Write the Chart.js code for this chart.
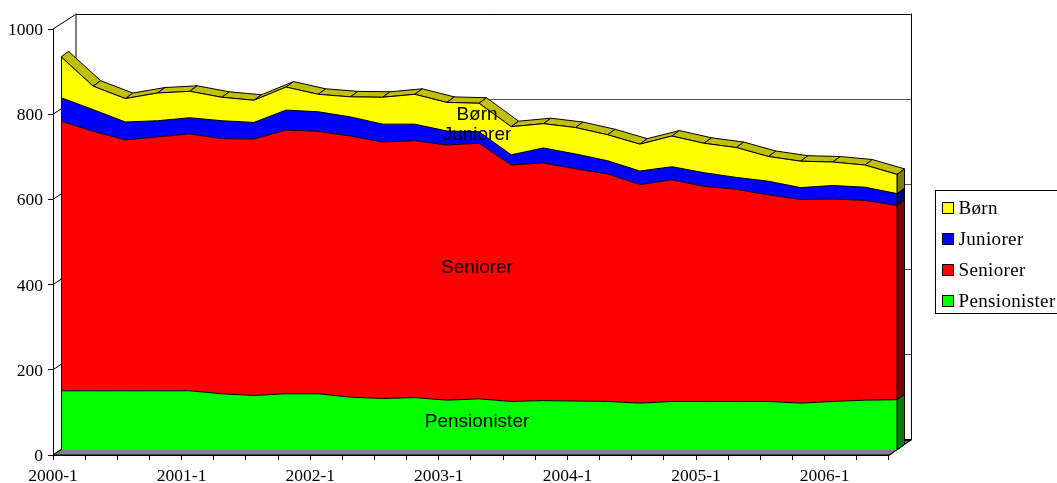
<!DOCTYPE html>
<html>
<head>
<meta charset="utf-8">
<script src="https://cdn.jsdelivr.net/npm/chart.js@4"></script>
<style>
    body { margin: 0; background: #fff; }
    canvas { display: block; }
</style>
</head>
<body>
<canvas id="members-chart" width="1057" height="483"></canvas>
<script>
"use strict";

var categories = [
    '2000-1', '2000-2', '2000-3', '2000-4', '2001-1', '2001-2', '2001-3', '2001-4',
    '2002-1', '2002-2', '2002-3', '2002-4', '2003-1', '2003-2', '2003-3', '2003-4',
    '2004-1', '2004-2', '2004-3', '2004-4', '2005-1', '2005-2', '2005-3', '2005-4',
    '2006-1', '2006-2', '2006-3'
];
var pensionister = [139, 139, 139, 139, 139, 132, 128, 132, 132, 124, 121, 123, 117, 120, 114, 116, 115, 114, 110, 114, 114, 114, 114, 110, 114, 117, 118];
var seniorer = [633, 609, 589, 596, 603, 599, 602, 619, 616, 613, 602, 603, 599, 600, 555, 558, 545, 534, 513, 520, 505, 498, 485, 478, 475, 469, 456];
var juniorer = [55, 51, 42, 38, 38, 42, 39, 47, 46, 45, 42, 39, 33, 27, 24, 35, 35, 31, 32, 31, 32, 28, 32, 28, 32, 31, 28];
var boern = [96, 55, 55, 65, 62, 55, 52, 54, 41, 47, 63, 70, 67, 67, 66, 57, 62, 61, 63, 72, 69, 70, 58, 62, 55, 52, 45];
var valueTicks = [0, 200, 400, 600, 800, 1000];

var serifFont = '"Liberation Serif", serif';
var sansFont = '"Liberation Sans", Arial, sans-serif';

function points(values) {
    return values.map(function (v, i) {
        return { x: i, y: v };
    });
}

function band(label, values, color, sideColor, fill) {
    return {
        label: label,
        data: points(values),
        xAxisID: 'xData',
        yAxisID: 'yData',
        backgroundColor: color,
        sideColor: sideColor,
        borderColor: '#000',
        borderWidth: 1,
        pointRadius: 0,
        tension: 0,
        fill: fill
    };
}

function line(ctx, pts, fillStyle) {
    ctx.beginPath();
    ctx.moveTo(pts[0][0], pts[0][1]);
    for (var i = 1; i < pts.length; i++) {
        ctx.lineTo(pts[i][0], pts[i][1]);
    }
    if (fillStyle) {
        ctx.closePath();
        ctx.fillStyle = fillStyle;
        ctx.fill();
    }
    ctx.stroke();
}

/* fake 3d box: walls + floor behind the series, top ledge and end caps on the series */
var boxPlugin = {
    id: 'box3d',
    beforeDatasetsDraw: function (chart) {
        var ctx = chart.ctx;
        var xs = chart.scales.xTicks;
        var ys = chart.scales.yTicks;
        var left = xs.getPixelForValue(0);
        var right = xs.getPixelForValue(26);
        var y0 = ys.getPixelForValue(0);
        var y1 = ys.getPixelForValue(1000);
        var wallX = 22.5, wallY = 15.5;
        var serX = 7.5, serY = 5.5;
        ctx.save();
        ctx.lineWidth = 1;
        ctx.strokeStyle = '#000';
        // floor
        line(ctx, [[left, y0], [left + wallX, y0 - wallY], [right + wallX, y0 - wallY], [right, y0]], '#808080');
        // back wall grid
        valueTicks.forEach(function (v) {
            var y = Math.round(ys.getPixelForValue(v) - wallY) + 0.5;
            var py = ys.getPixelForValue(v);
            ctx.strokeStyle = v == 0 || v == 1000 ? '#000' : '#555';
            line(ctx, [[left + wallX, y], [right + wallX, y]]);
            ctx.strokeStyle = '#000';
            line(ctx, [[left, py], [left + wallX, y]]);
        });
        line(ctx, [[left + wallX + 0.5, y1 - wallY], [left + wallX + 0.5, y0 - wallY]]);
        line(ctx, [[right + wallX, y1 - wallY], [right + wallX, y0 - wallY]]);
        line(ctx, [[left + 0.5, y1], [left + 0.5, y0]]);
        line(ctx, [[left, y0 + 0.5], [right, y0 + 0.5]]);
        line(ctx, [[right, y0 + 0.5], [right + wallX, y0 - wallY]]);

        // ledge along the top series
        var metas = chart.getSortedVisibleDatasetMetas();
        var top = metas[metas.length - 1].data;
        for (var i = 0; i < top.length - 1; i++) {
            line(ctx, [
                [top[i].x, top[i].y],
                [top[i].x + serX, top[i].y - serY],
                [top[i + 1].x + serX, top[i + 1].y - serY],
                [top[i + 1].x, top[i + 1].y]
            ], '#c0c000');
        }
        // end caps
        var baseY = chart.scales.yData.getPixelForValue(0);
        metas.forEach(function (meta, k) {
            var p = meta.data[meta.data.length - 1];
            var below = k == 0 ? baseY : metas[k - 1].data[meta.data.length - 1].y;
            line(ctx, [
                [p.x, p.y],
                [p.x + serX, p.y - serY],
                [p.x + serX, below - serY],
                [p.x, below]
            ], chart.data.datasets[meta.index].sideColor);
        });
        ctx.restore();
    },
    afterDatasetsDraw: function (chart) {
        var ctx = chart.ctx;
        var metas = chart.getSortedVisibleDatasetMetas();
        var baseY = chart.scales.yData.getPixelForValue(0);
        var topPts = metas[metas.length - 1].data;
        var last = topPts.length - 1;
        ctx.save();
        ctx.strokeStyle = '#000';
        ctx.lineWidth = 1;
        // front edges of the series
        line(ctx, [[topPts[0].x + 0.5, topPts[0].y], [topPts[0].x + 0.5, baseY]]);
        line(ctx, [[topPts[last].x, topPts[last].y], [topPts[last].x, baseY]]);

        // series names in the middle of each band
        ctx.fillStyle = '#000';
        ctx.font = '19px ' + sansFont;
        ctx.textAlign = 'center';
        ctx.textBaseline = 'middle';
        metas.forEach(function (meta, k) {
            var p = meta.data[13];
            var below = k == 0 ? baseY : metas[k - 1].data[13].y;
            ctx.fillText(chart.data.datasets[meta.index].label, p.x - 2, (p.y + below) / 2 - 3);
        });

        // legend
        ctx.fillStyle = '#fff';
        ctx.fillRect(935.5, 190.5, 122, 123);
        ctx.strokeRect(935.5, 190.5, 122, 123);
        ctx.font = '19px ' + serifFont;
        ctx.letterSpacing = '0.35px';
        ctx.textAlign = 'left';
        metas.slice().reverse().forEach(function (meta, k) {
            var ds = chart.data.datasets[meta.index];
            var y = 202.5 + k * 31;
            ctx.fillStyle = ds.backgroundColor;
            ctx.fillRect(942.5, y, 11, 11);
            ctx.strokeRect(942.5, y, 11, 11);
            ctx.fillStyle = '#000';
            ctx.fillText(ds.label, 958.5, y + 6.5);
        });
        ctx.restore();
    }
};

var ctx = document.getElementById('members-chart');
var membersChart = new Chart(ctx, {
    type: 'line',
    data: {
        datasets: [
            band('Pensionister', pensionister, '#00ff00', '#008000', 'origin'),
            band('Seniorer', seniorer, '#ff0000', '#800000', '-1'),
            band('Juniorer', juniorer, '#0000ff', '#000080', '-1'),
            band('Børn', boern, '#ffff00', '#808000', '-1')
        ]
    },
    plugins: [boxPlugin],
    options: {
        responsive: false,
        animation: false,
        layout: { padding: { top: 29, right: 160, left: 0, bottom: 0 } },
        plugins: {
            legend: { display: false },
            tooltip: { enabled: false },
            title: { display: false }
        },
        scales: {
            // the series sit a bit into the box, so they get their own shifted scales
            xData: { type: 'linear', axis: 'x', display: false, min: -0.25, max: 26 },
            yData: { type: 'linear', axis: 'y', display: false, stacked: true, min: -11.7, max: 988.3 },
            xTicks: {
                type: 'linear',
                axis: 'x',
                position: 'bottom',
                min: 0,
                max: 26.25,
                border: { display: false },
                grid: { drawOnChartArea: false, color: '#000', tickLength: 5 },
                afterFit: function (scale) { scale.height = 28; },
                ticks: {
                    stepSize: 1,
                    includeBounds: false,
                    autoSkip: false,
                    maxRotation: 0,
                    padding: 6,
                    color: '#000',
                    font: { family: serifFont, size: 17.5 },
                    callback: function (v) {
                        var c = categories[v];
                        return c && c.slice(-2) == '-1' ? c : '';
                    }
                }
            },
            yTicks: {
                type: 'linear',
                axis: 'y',
                position: 'left',
                min: 0,
                max: 1000,
                border: { display: false },
                grid: { drawOnChartArea: false, color: '#000', tickLength: 5 },
                afterFit: function (scale) { scale.width = 53; },
                ticks: {
                    stepSize: 200,
                    padding: 5,
                    labelOffset: 1.5,
                    color: '#000',
                    font: { family: serifFont, size: 17.5 },
                    callback: function (v) { return String(v); }
                }
            }
        }
    }
});
</script>
</body>
</html>
